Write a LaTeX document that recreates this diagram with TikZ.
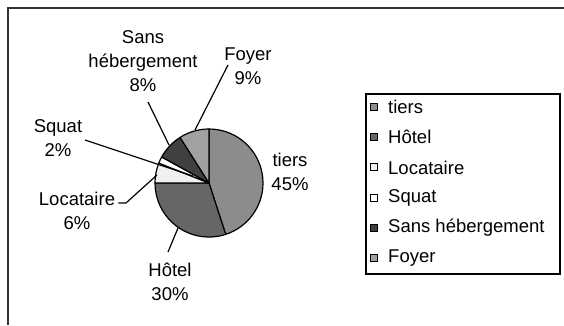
\documentclass[tikz,border=0pt]{standalone}
\usepackage{fontspec}
\setmainfont{Liberation Sans}
\usetikzlibrary{positioning,calc}
\tikzstyle{leader} = [line width=1.2pt,black]
\tikzstyle{slice} = [draw=black,line width=1.2pt,line join=round]

\begin{document}
\begin{tikzpicture}[x=1pt,y=1pt,
    lbl/.style={align=center,inner sep=0pt,font=\fontsize{18.5}{24}\selectfont},
    keybox/.style={draw,line width=1pt,minimum size=7pt,inner sep=0pt},
    keytext/.style={anchor=west,inner sep=0pt,font=\fontsize{18.5}{24}\selectfont},]
        \useasboundingbox (0,0) rectangle (564,325);
        % frame (only top and left edge are seen)
        \draw[line width=1.5pt,black!80] (8,0) -- (8,317) -- (564,317);

        % pie: centre (c), radius 54
        \coordinate (c) at (209,142);
        \filldraw[slice,fill=black!45] (c) -- ++(90:54) arc[start angle=90,end angle=-72,radius=54] -- cycle; % tiers 45%
        \filldraw[slice,fill=black!60] (c) -- ++(-72:54) arc[start angle=-72,end angle=-180,radius=54] -- cycle; % Hotel 30%
        \filldraw[slice,fill=black!6] (c) -- ++(180:54) arc[start angle=180,end angle=158.4,radius=54] -- cycle; % Locataire 6%
        \filldraw[slice,fill=white] (c) -- ++(158.4:54) arc[start angle=158.4,end angle=151.2,radius=54] -- cycle; % Squat 2%
        \filldraw[slice,fill=black!75] (c) -- ++(151.2:54) arc[start angle=151.2,end angle=122.4,radius=54] -- cycle; % Sans hebergement 8%
        \filldraw[slice,fill=black!37] (c) -- ++(122.4:54) arc[start angle=122.4,end angle=90,radius=54] -- cycle; % Foyer 9%

        % labels round the pie
        \node[lbl] (tiers) at (290,153) {tiers\\45\%};
        \node[lbl] (hotel) at (170,43) {Hôtel\\30\%};
        \node[lbl] (loc) at (77,114) {Locataire\\6\%};
        \node[lbl] (squat) at (58,186.5) {Squat\\2\%};
        \node[lbl] (sans) at (143,264) {Sans\\hébergement\\8\%};
        \node[lbl] (foyer) at (248,259) {Foyer\\9\%};

        % leader lines
        \coordinate (hotelend) at (178,97);
        \coordinate (locbend) at (126,122);
        \coordinate (locend) at (157,150);
        \coordinate (squatend) at (193,149);
        \coordinate (sansend) at (169,180);
        \coordinate (foyerend) at (195,195);
        \draw[leader] (168,73) -- (hotelend); % Hotel
        \draw[leader] (loc.east |- locbend) ++(3,0) -- (locbend) -- (locend); % Locataire
        \draw[leader] (85,185) -- (squatend); % Squat
        \draw[leader] (148,223) -- (sansend); % Sans hebergement
        \draw[leader] (228,260) -- (foyerend); % Foyer

        % legend
        \node[draw,line width=1.5pt,minimum width=194pt,minimum height=180pt,anchor=north west] (legend) at (365,232) {};
        \foreach \name/\shade [count=\i from 0] in {tiers/black!45,Hôtel/black!60,Locataire/black!6,Squat/white,Sans hébergement/black!75,Foyer/black!37}
        {
            \node[keybox,fill=\shade] (key\i) at (374,218-30.2*\i) {};
            \node[keytext] (keytext\i) at (388,218-30.2*\i) {\name};
        }
    \end{tikzpicture}
\end{document}
